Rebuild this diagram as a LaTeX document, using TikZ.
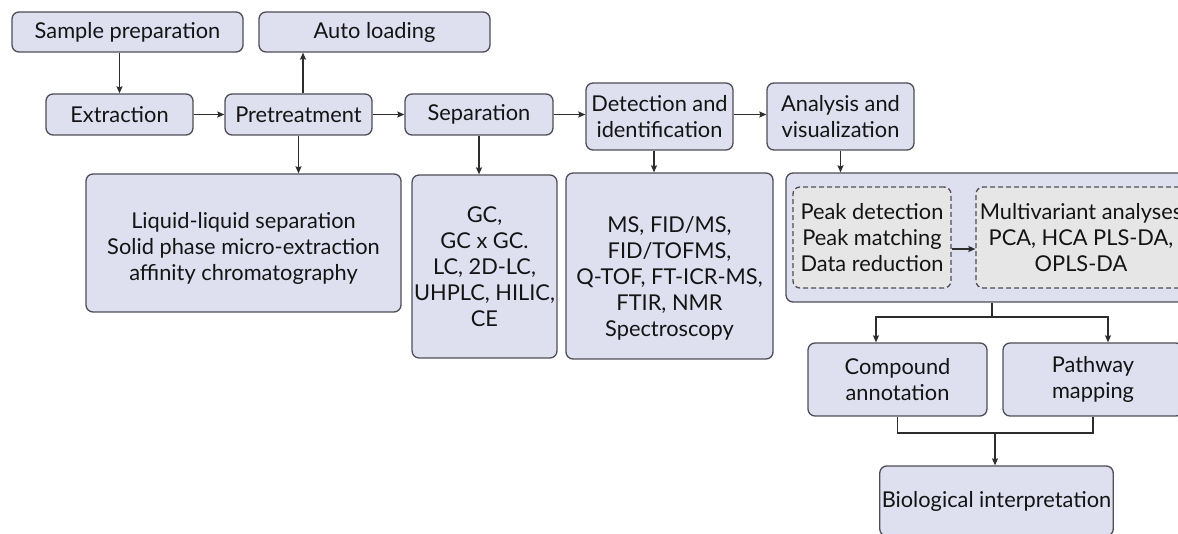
\documentclass[tikz,border=0pt]{standalone}
\usepackage{fontspec}
\setmainfont{Lato}
\usetikzlibrary{arrows.meta}

\definecolor{boxfill}{RGB}{222,224,240}
\definecolor{dashfill}{RGB}{230,230,230}
\definecolor{boxline}{RGB}{78,78,88}
\definecolor{arrowline}{RGB}{45,45,45}

\tikzset{every picture/.style={line width=0.75pt}}
\tikzset{
  procbox/.style={draw=boxline, fill=boxfill, line width=1.3pt, rounded corners=7pt, align=center, inner sep=2pt, font=\fontsize{21.8}{26}\selectfont, text={rgb,255:red,20;green,20;blue,20}},
  dashbox/.style={procbox, fill=dashfill, dash pattern=on 5pt off 3pt},
  boxtext/.style={align=center, inner sep=0pt, font=\fontsize{21.8}{26}\selectfont, text={rgb,255:red,20;green,20;blue,20}},
  arr/.style={draw=arrowline, line width=1.2pt, -{Stealth[length=7pt,width=6pt,inset=1pt]}},
  ln/.style={draw=arrowline, line width=1.2pt}
}

\begin{document}
\begin{tikzpicture}[x=1pt,y=1pt,yscale=-1,xscale=1]
\useasboundingbox (0,0) rectangle (1178,534);
\clip (0,0) rectangle (1178,534);

%Rounded Rect: top row
\node[procbox, minimum width=231pt, minimum height=40pt] (sampleprep) at (127.5,32) {Sample preparation};
\node[procbox, minimum width=231pt, minimum height=40pt] (autoload) at (374.5,32) {Auto loading};

%Rounded Rect: main row
\node[procbox, minimum width=147pt, minimum height=41pt] (extract) at (119.5,114.5) {Extraction};
\node[procbox, minimum width=147pt, minimum height=41pt] (pretreat) at (298.5,114.5) {Pretreatment};
\node[procbox, minimum width=148pt, minimum height=41pt] (separ) at (479,114.5) {Separation};
\node[procbox, minimum width=147pt, minimum height=67pt] (detect) at (659.5,116.5) {Detection and\\identification};
\node[procbox, minimum width=147pt, minimum height=67pt] (analys) at (840.5,116.5) {Analysis and\\visualization};

%Rounded Rect: method boxes
\node[procbox, minimum width=315pt, minimum height=138pt] (liquid) at (243.5,243) {};
% Text Node
\node[boxtext] (liquidtxt) at ([yshift=5.5pt]liquid.center) {Liquid-liquid separation\\Solid phase micro-extraction\\affinity chromatography};
\node[procbox, minimum width=135pt, minimum height=183pt] (gc) at (484.5,266.5) {GC,\\GC x GC.\\LC, 2D-LC,\\UHPLC, HILIC,\\CE};
\node[procbox, minimum width=207pt, minimum height=186pt] (ms) at (669.5,266) {};
% Text Node
\node[boxtext] (mstxt) at ([yshift=12pt]ms.center) {MS, FID/MS,\\FID/TOFMS,\\Q-TOF, FT-ICR-MS,\\FTIR, NMR\\Spectroscopy};

%Rounded Rect: analysis group
\node[procbox, minimum width=409pt, minimum height=129pt] (bigbox) at (990.5,237.5) {};
\node[dashbox, minimum width=158pt, minimum height=101pt] (peak) at (872,237.5) {Peak detection\\Peak matching\\Data reduction};
\node[dashbox, minimum width=210pt, minimum height=101pt] (multi) at (1081,237.5) {Multivariant analyses\\PCA, HCA PLS-DA,\\OPLS-DA};

%Rounded Rect: results
\node[procbox, minimum width=179pt, minimum height=73pt] (compound) at (897.5,379.5) {Compound\\annotation};
\node[procbox, minimum width=180pt, minimum height=73pt] (pathway) at (1093,379.5) {Pathway\\mapping};
\node[procbox, minimum width=231pt, minimum height=70pt] (bio) at (996.5,501) {Biological interpretation};

\coordinate (split) at (992,317);
\coordinate (merge) at (995,433);

%Straight Lines
\draw[arr] (sampleprep.south -| extract.north) -- (extract.north);
\draw[arr] ([xshift=4.5pt]pretreat.north) -- ([xshift=4.5pt]pretreat.north |- autoload.south);
\draw[arr] (pretreat.south) -- (pretreat.south |- liquid.north);
\draw[arr] (extract.east) -- (pretreat.west);
\draw[arr] (pretreat.east) -- (separ.west);
\draw[arr] (separ.east) -- (separ.east -| detect.west);
\draw[arr] (separ.east -| detect.east) -- (separ.east -| analys.west);
\draw[arr] (separ.south) -- (separ.south |- gc.north);
\draw[arr] ([xshift=-5.5pt]detect.south) -- ([xshift=-5.5pt]detect.south |- ms.north);
\draw[arr] (analys.south) -- (analys.south |- bigbox.north);
\draw[arr] ([yshift=11.5pt]peak.east) -- ([yshift=11.5pt]multi.west);

%Branch lines
\draw[ln] (split |- bigbox.south) -- (split);
\draw[arr] (split) -| ([xshift=-21.5pt]compound.north);
\draw[arr] (split) -| ([xshift=15pt]pathway.north);
\draw[ln] (compound.south) |- (merge) -| (pathway.south);
\draw[arr] (merge) -- (merge |- bio.north);

\end{tikzpicture}
\end{document}
